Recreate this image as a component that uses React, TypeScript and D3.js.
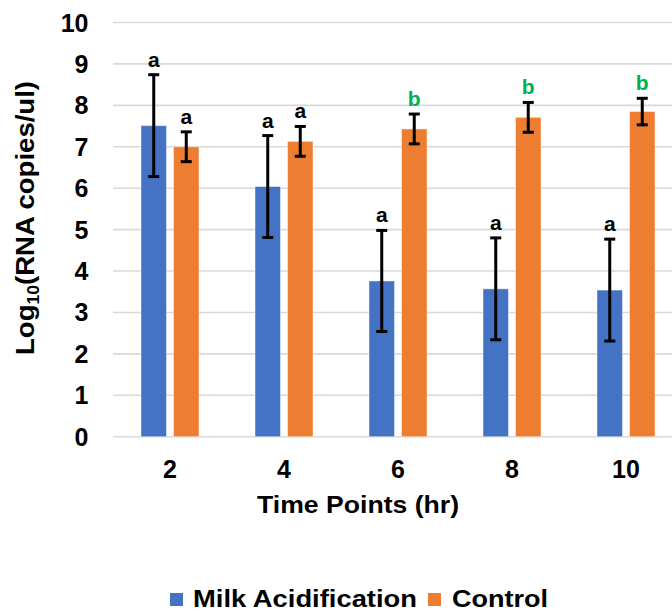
import React from "react";
import * as d3 from "d3";

const categories = ["2", "4", "6", "8", "10"];
const milkValues = [7.51, 6.04, 3.76, 3.57, 3.54];
const milkErrors = [1.23, 1.23, 1.22, 1.23, 1.23];
const controlValues = [7.0, 7.13, 7.43, 7.71, 7.85];
const controlErrors = [0.36, 0.36, 0.36, 0.36, 0.32];
const milkLetters = ["a", "a", "a", "a", "a"];
const controlLetters = ["a", "a", "b", "b", "b"];
const yTicks = [0, 1, 2, 3, 4, 5, 6, 7, 8, 9, 10];
const seriesNames = ["Milk Acidification", "Control"];

const W = 672;
const H = 611;
const FONT = "'Liberation Sans', Arial, sans-serif";
const BLUE = "#4472C4";
const ORANGE = "#ED7D31";
const GREEN = "#00B050";

export default function App() {
  const x = d3.scaleBand<string>().domain(categories).range([113, 683]).padding(0);
  const y = d3.scaleLinear().domain([0, 10]).range([436.7, 22.5]);
  const barW = 25.5;
  const gap = 7;
  const capW = 11;

  const series = [
    { name: seriesNames[0], values: milkValues, errors: milkErrors, letters: milkLetters, color: BLUE, off: -gap / 2 - barW },
    { name: seriesNames[1], values: controlValues, errors: controlErrors, letters: controlLetters, color: ORANGE, off: gap / 2 },
  ];

  return (
    <svg width={W} height={H} style={{ position: "absolute", left: 0, top: 0, background: "#fff" }} fontFamily={FONT}>
      <rect width={W} height={H} fill="#fff" />
      {yTicks.map((t) => (
        <g key={t}>
          <line x1={113} x2={683} y1={y(t)} y2={y(t)} stroke="#D9D9D9" strokeWidth={1.6} />
          <text x={88.5} y={y(t) + 9} textAnchor="end" fontSize={25} fontWeight="bold" fill="#000">
            {t}
          </text>
        </g>
      ))}
      {series.map((s) =>
        categories.map((c, i) => {
          const cx = (x(c) as number) + x.bandwidth() / 2;
          const bx = cx + s.off;
          const v = s.values[i];
          const e = s.errors[i];
          const mx = bx + barW / 2;
          const top = y(v + e);
          const bot = y(v - e);
          return (
            <g key={s.name + c}>
              <rect x={bx} y={y(v)} width={barW} height={y(0) - y(v)} fill={s.color} stroke="#ffffff" strokeOpacity={0.45} strokeWidth={1} />
              <line x1={mx} x2={mx} y1={top} y2={bot} stroke="#000" strokeWidth={3} />
              <line x1={mx - capW / 2} x2={mx + capW / 2} y1={top} y2={top} stroke="#000" strokeWidth={3} />
              <line x1={mx - capW / 2} x2={mx + capW / 2} y1={bot} y2={bot} stroke="#000" strokeWidth={3} />
              <text x={mx} y={top - 8} textAnchor="middle" fontSize={21} fontWeight="bold" fill={s.letters[i] === "b" ? GREEN : "#000"}>
                {s.letters[i]}
              </text>
            </g>
          );
        })
      )}
      {categories.map((c) => (
        <text key={c} x={(x(c) as number) + x.bandwidth() / 2} y={478} textAnchor="middle" fontSize={25} fontWeight="bold">
          {c}
        </text>
      ))}
      <text x={257} y={513} fontSize={24} fontWeight="bold" textLength={202} lengthAdjust="spacingAndGlyphs">
        Time Points (hr)
      </text>
      <text transform="translate(34,355) rotate(-90)" fontSize={25} fontWeight="bold" textLength={274} lengthAdjust="spacingAndGlyphs">
        Log<tspan fontSize={16} dy={5}>10</tspan>
        <tspan dy={-5}>(RNA copies/ul)</tspan>
      </text>
      <g>
        <rect x={170} y={593} width={13} height={13} fill={BLUE} />
        <text x={193} y={607} fontSize={24} fontWeight="bold" textLength={224} lengthAdjust="spacingAndGlyphs">
          {seriesNames[0]}
        </text>
        <rect x={428} y={593} width={13} height={13} fill={ORANGE} />
        <text x={452} y={607} fontSize={24} fontWeight="bold" textLength={96} lengthAdjust="spacingAndGlyphs">
          {seriesNames[1]}
        </text>
      </g>
    </svg>
  );
}
